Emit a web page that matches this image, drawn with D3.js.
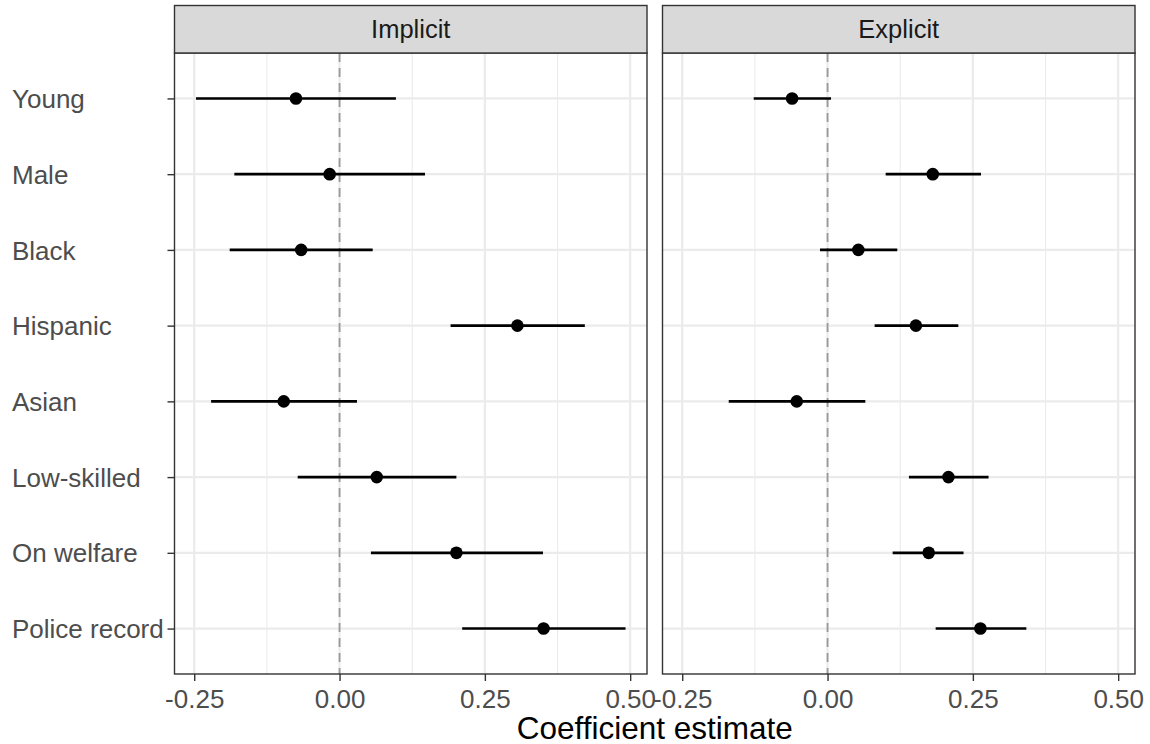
<!DOCTYPE html>
<html>
<head>
<meta charset="utf-8">
<script src="https://cdn.jsdelivr.net/npm/d3@7"></script>
<style>
  body { margin: 0; background: #fff; }
  svg text { font-family: "Liberation Sans", Arial, sans-serif; }
</style>
</head>
<body>
<svg id="chart" width="1150" height="744"></svg>
<script>
// categories, top to bottom
var categories = ["Young", "Male", "Black", "Hispanic", "Asian", "Low-skilled", "On welfare", "Police record"];

// implicit panel
var implicitEst = [-0.075, -0.017, -0.066, 0.306, -0.096, 0.064, 0.201, 0.351];
var implicitLo  = [-0.247, -0.181, -0.189, 0.191, -0.221, -0.072, 0.054, 0.211];
var implicitHi  = [0.097, 0.147, 0.057, 0.422, 0.030, 0.201, 0.350, 0.492];

// explicit panel
var explicitEst = [-0.061, 0.181, 0.053, 0.152, -0.053, 0.208, 0.174, 0.263];
var explicitLo  = [-0.127, 0.100, -0.013, 0.081, -0.170, 0.140, 0.112, 0.186];
var explicitHi  = [0.006, 0.264, 0.120, 0.225, 0.065, 0.277, 0.234, 0.342];

var panelNames = ["Implicit", "Explicit"];
var xTicks = [-0.25, 0, 0.25, 0.5];
var xMinor = [-0.125, 0.125, 0.375];
var xTitle = "Coefficient estimate";

var svg = d3.select("#chart");

var plotTop = 53, plotBottom = 674, stripTop = 5.5;
var panelX = [[174.5, 647], [662.5, 1135]];

// build the rows of each panel
var panels = [
    {name: panelNames[0], est: implicitEst, lo: implicitLo, hi: implicitHi},
    {name: panelNames[1], est: explicitEst, lo: explicitLo, hi: explicitHi}
];

// shared x domain with ggplot style 5% expansion
var allLo = d3.min(implicitLo.concat(explicitLo)), allHi = d3.max(implicitHi.concat(explicitHi));
var pad = (allHi - allLo) * 0.05;
var xDomain = [allLo - pad, allHi + pad];

var y = d3.scalePoint().domain(categories).range([plotTop, plotBottom]).padding(0.6);

panels.forEach(function(p, i) {
    var x0 = panelX[i][0], x1 = panelX[i][1];
    var x = d3.scaleLinear().domain(xDomain).range([x0, x1]);
    var g = svg.append("g");

    // background grid
    g.selectAll(".minor").data(xMinor).enter().append("line")
        .attr("x1", function(d) { return x(d); }).attr("x2", function(d) { return x(d); })
        .attr("y1", plotTop).attr("y2", plotBottom)
        .attr("stroke", "#ebebeb").attr("stroke-width", 1.1);
    g.selectAll(".major").data(xTicks).enter().append("line")
        .attr("x1", function(d) { return x(d); }).attr("x2", function(d) { return x(d); })
        .attr("y1", plotTop).attr("y2", plotBottom)
        .attr("stroke", "#ebebeb").attr("stroke-width", 2.2);
    g.selectAll(".hgrid").data(categories).enter().append("line")
        .attr("x1", x0).attr("x2", x1)
        .attr("y1", function(d) { return y(d); }).attr("y2", function(d) { return y(d); })
        .attr("stroke", "#ebebeb").attr("stroke-width", 2.2);

    // zero reference line
    g.append("line")
        .attr("x1", x(0)).attr("x2", x(0)).attr("y1", plotTop).attr("y2", plotBottom)
        .attr("stroke", "#999999").attr("stroke-width", 1.8)
        .attr("stroke-dasharray", "9,6");

    var rows = categories.map(function(c, k) {
        return {cat: c, est: p.est[k], lo: p.lo[k], hi: p.hi[k]};
    });

    // intervals
    g.selectAll(".ci").data(rows).enter().append("line")
        .attr("x1", function(d) { return x(d.lo); }).attr("x2", function(d) { return x(d.hi); })
        .attr("y1", function(d) { return y(d.cat); }).attr("y2", function(d) { return y(d.cat); })
        .attr("stroke", "#000").attr("stroke-width", 2.6);

    // estimates
    g.selectAll(".pt").data(rows).enter().append("circle")
        .attr("cx", function(d) { return x(d.est); })
        .attr("cy", function(d) { return y(d.cat); })
        .attr("r", 6.3).attr("fill", "#000");

    // panel border
    g.append("rect")
        .attr("x", x0).attr("y", plotTop).attr("width", x1 - x0).attr("height", plotBottom - plotTop)
        .attr("fill", "none").attr("stroke", "#333333").attr("stroke-width", 1.4);

    // strip
    g.append("rect")
        .attr("x", x0).attr("y", stripTop).attr("width", x1 - x0).attr("height", plotTop - stripTop)
        .attr("fill", "#d9d9d9").attr("stroke", "#333333").attr("stroke-width", 1.4);
    g.append("text")
        .attr("x", (x0 + x1) / 2).attr("y", 38)
        .attr("text-anchor", "middle").attr("font-size", 25.5).attr("fill", "#1a1a1a")
        .text(p.name);

    // x axis
    var ax = svg.append("g").attr("transform", "translate(0," + plotBottom + ")")
        .call(d3.axisBottom(x).tickValues(xTicks).tickSizeInner(7).tickSizeOuter(0)
            .tickPadding(9).tickFormat(function(d) { return d.toFixed(2); }));
    ax.select(".domain").remove();
    ax.selectAll(".tick line").attr("stroke", "#333333").attr("stroke-width", 1.4);
    ax.selectAll(".tick text").attr("font-size", 26).attr("fill", "#4d4d4d")
        .style("font-family", "'Liberation Sans', Arial, sans-serif");

    // y axis on first panel only
    if (i === 0) {
        var ay = svg.append("g").attr("transform", "translate(" + x0 + ",0)")
            .call(d3.axisLeft(y).tickSizeInner(7).tickSizeOuter(0));
        ay.select(".domain").remove();
        ay.selectAll(".tick line").attr("stroke", "#333333").attr("stroke-width", 1.4);
        ay.selectAll(".tick text")
            .attr("x", 12 - x0).attr("text-anchor", "start").attr("dy", "0.35em")
            .attr("font-size", 26).attr("fill", "#4d4d4d")
            .style("font-family", "'Liberation Sans', Arial, sans-serif");
    }
});

// axis title
svg.append("text")
    .attr("x", (panelX[0][0] + panelX[1][1]) / 2).attr("y", 739)
    .attr("text-anchor", "middle").attr("font-size", 31.5).attr("fill", "#000")
    .text(xTitle);
</script>
</body>
</html>
